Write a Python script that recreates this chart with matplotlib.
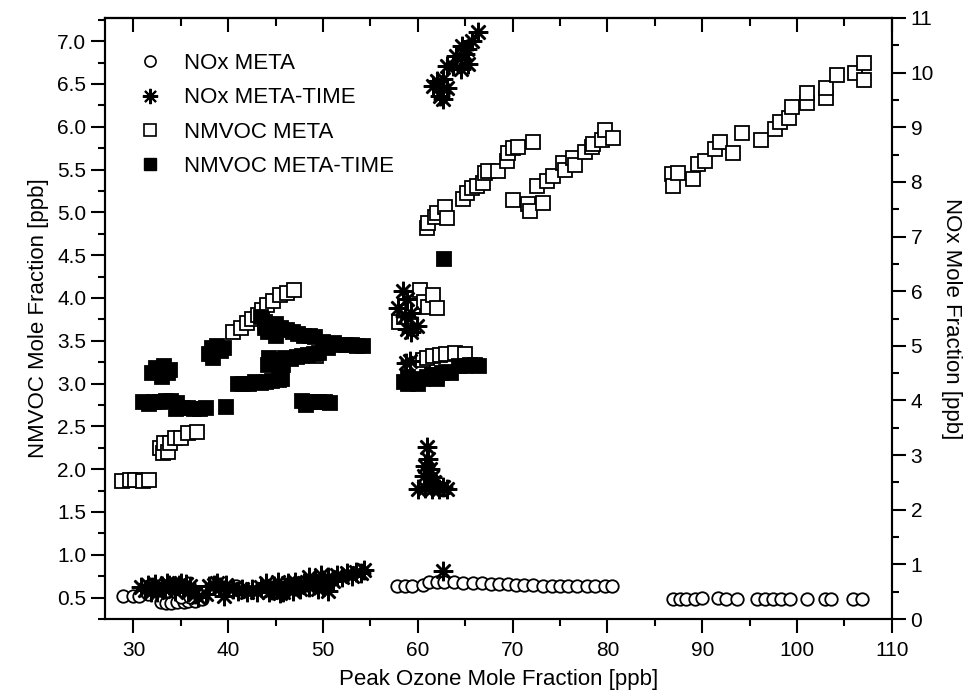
import matplotlib
matplotlib.use("Agg")
import matplotlib.pyplot as plt
from matplotlib.ticker import MultipleLocator
from matplotlib.lines import Line2D

plt.rcParams['font.family'] = ['Liberation Sans', 'DejaVu Sans']

# --- NMVOC META (open squares, left axis) ---
nmvoc_meta_x = [28.8, 29.6, 30.2, 31.0, 31.6,
                32.8, 33.1, 33.2, 33.6, 33.9, 34.4, 35.0, 35.7, 36.7,
                40.5, 41.3, 42.0, 42.5, 43.1, 43.6, 44.1, 44.75, 45.5, 46.2, 46.9, 49.3,
                58.0, 58.5, 59.0, 59.5, 60.2, 60.6, 61.1, 61.6, 62.0,
                60.5, 61.0, 61.6, 62.3, 63.0, 63.9, 65.0,
                61.0, 61.1, 61.8, 62.0, 62.9, 63.1, 64.8, 65.2, 65.7, 66.25, 66.9, 67.1, 67.4,
                68.5, 69.4, 69.5, 70.0, 70.6, 72.1,
                70.0, 71.6, 71.8, 73.2, 72.6, 73.6, 74.3, 75.3, 75.5, 76.4, 76.6, 77.6, 78.4,
                78.5, 79.4, 79.7, 80.6,
                86.8, 86.9, 87.4, 89.0, 89.5, 90.3, 91.3, 91.9, 93.2, 94.2, 96.2, 97.7, 98.2,
                99.2, 99.5, 101.0, 101.1, 103.1, 103.1, 104.2, 106.1, 107.1, 107.1]
nmvoc_meta_y = [1.86, 1.87, 1.87, 1.86, 1.87,
                2.25, 2.19, 2.30, 2.20, 2.31, 2.36, 2.37, 2.42, 2.43,
                3.60, 3.65, 3.71, 3.75, 3.80, 3.86, 3.92, 3.96, 4.04, 4.06, 4.09, 3.32,
                3.72, 3.78, 3.84, 3.90, 4.09, 3.95, 3.90, 4.03, 3.88,
                3.27, 3.30, 3.32, 3.33, 3.34, 3.36, 3.34,
                4.82, 4.88, 4.94, 4.99, 5.06, 4.93, 5.15, 5.23, 5.28, 5.31, 5.34, 5.46, 5.48,
                5.48, 5.60, 5.69, 5.75, 5.76, 5.82,
                5.14, 5.10, 5.02, 5.11, 5.31, 5.37, 5.43, 5.58, 5.49, 5.63, 5.55, 5.70, 5.76,
                5.80, 5.84, 5.96, 5.87,
                5.45, 5.31, 5.46, 5.39, 5.57, 5.60, 5.74, 5.82, 5.69, 5.93, 5.85, 5.97, 6.05,
                6.10, 6.23, 6.28, 6.39, 6.33, 6.45, 6.60, 6.63, 6.74, 6.54]

# --- NMVOC META-TIME (filled squares, left axis) ---
nmvoc_time_x = [32.0, 32.4, 32.8, 33.2, 33.6, 33.9, 33.0,
                31.0, 31.6, 32.2, 32.8, 33.4, 34.0, 34.6, 35.2, 35.8, 36.4, 37.0, 37.7, 34.5,
                39.8,
                38.0, 38.3, 38.8, 39.2, 39.6, 38.4,
                41.0, 41.6, 42.2, 42.8, 43.4, 44.0, 44.6, 45.3, 45.7,
                44.2, 44.8, 45.4, 46.0, 46.6, 47.2, 47.8, 48.4, 49.0, 49.6, 44.3, 45.8,
                43.4, 43.9, 44.4, 45.0, 45.6, 46.2, 46.8, 47.4, 48.0, 48.6, 49.2, 44.2, 45.0, 43.9,
                50.0, 50.6, 51.2, 51.8, 52.4, 53.0, 53.6, 54.2, 50.5,
                47.8, 48.4, 49.0, 49.6, 50.2, 50.7, 48.2,
                58.5, 59.0, 59.5, 60.0, 60.5, 61.0, 61.5, 62.0, 62.5, 63.0, 63.5, 64.3, 65.0,
                65.5, 66.0, 66.4, 59.0, 62.0,
                62.8]
nmvoc_time_y = [3.12, 3.18, 3.14, 3.20, 3.12, 3.16, 3.08,
                2.78, 2.76, 2.79, 2.78, 2.80, 2.80, 2.77, 2.72, 2.72, 2.70, 2.70, 2.71, 2.70,
                2.73,
                3.35, 3.42, 3.44, 3.38, 3.42, 3.30,
                3.00, 2.99, 3.00, 3.02, 3.01, 3.02, 3.03, 3.04, 3.05,
                3.22, 3.27, 3.26, 3.30, 3.29, 3.31, 3.32, 3.33, 3.35, 3.36, 3.30, 3.22,
                3.78, 3.72, 3.68, 3.70, 3.65, 3.62, 3.60, 3.58, 3.56, 3.55, 3.54, 3.60, 3.56, 3.65,
                3.48, 3.46, 3.47, 3.45, 3.45, 3.45, 3.44, 3.44, 3.42,
                2.80, 2.78, 2.79, 2.79, 2.78, 2.77, 2.75,
                3.02, 3.00, 3.02, 2.99, 3.05, 3.08, 3.10, 3.10, 3.12, 3.13, 3.12, 3.20, 3.20,
                3.22, 3.22, 3.20, 3.08, 3.05,
                4.46]

# --- NOx META (open circles, right axis) ---
nox_meta_x = [28.9, 29.9, 30.6, 31.5, 32.9, 33.4, 34.0, 34.6, 35.3, 35.8, 36.5, 37.2, 35.0, 36.0, 40.8,
              57.8, 58.6, 59.4, 60.5, 61.2, 62.0, 62.8, 63.8, 64.8, 65.8, 66.8, 67.7, 68.6, 69.5,
              70.3, 71.2, 72.1, 73.2, 74.2, 75.0, 75.8, 76.8, 77.8, 78.7, 79.7, 80.5,
              86.9, 87.6, 88.3, 89.2, 90.0, 91.7, 92.5, 93.7, 95.8, 96.6, 97.5, 98.3, 99.3,
              101.0, 102.9, 103.6, 105.9, 106.8]
nox_meta_y = [0.42, 0.42, 0.42, 0.45, 0.31, 0.30, 0.30, 0.31, 0.31, 0.33, 0.33, 0.36, 0.40, 0.40, 0.60,
              0.60, 0.60, 0.60, 0.62, 0.68, 0.68, 0.68, 0.68, 0.65, 0.65, 0.65, 0.64, 0.64, 0.64,
              0.63, 0.63, 0.62, 0.61, 0.61, 0.60, 0.60, 0.60, 0.60, 0.60, 0.60, 0.60,
              0.37, 0.37, 0.37, 0.37, 0.38, 0.38, 0.37, 0.37, 0.37, 0.37, 0.37, 0.37, 0.37,
              0.37, 0.36, 0.36, 0.36, 0.36]

# --- NOx META-TIME (asterisks, right axis) ---
nox_time_x = [66.35, 65.2, 64.67, 65.7, 63.7, 63.1, 64.5, 65.3, 62.0, 61.6, 62.7, 62.35, 63.1, 62.6,
              64.0, 65.0,
              58.4, 58.9, 57.9, 58.6, 59.3, 59.9, 58.9, 59.3, 59.2, 58.7,
              61.0, 61.1, 60.8, 61.3, 60.6, 61.5, 60.0, 60.8, 61.5, 62.2, 63.1, 62.6, 61.7,
              30.8, 31.2, 31.5, 32.0, 32.3, 32.5, 33.0, 33.3, 33.7, 34.0, 34.4, 34.8, 35.2, 35.5,
              35.8, 36.0, 36.5, 36.8, 31.8, 33.5, 35.0,
              37.6, 38.0, 38.5, 39.0, 39.5, 39.8, 38.8,
              40.5, 41.0, 41.5, 42.0, 42.5, 43.0,
              43.5, 44.0, 44.3, 44.8, 45.2, 45.5, 46.0, 46.3, 46.8, 47.2, 47.6, 48.0, 48.5, 49.0,
              49.5, 50.0, 50.5, 44.6, 45.8, 47.0,
              48.5, 49.2, 49.8, 50.5, 51.0, 51.5, 52.0, 52.5, 53.0, 53.5, 54.0, 54.3,
              62.7]
nox_time_y = [10.75, 10.44, 10.49, 10.57, 10.13, 10.13, 10.07, 10.16, 9.84, 9.76, 9.89, 9.58, 9.71, 9.52,
              10.3, 10.35,
              6.00, 5.85, 5.70, 5.55, 5.60, 5.37, 5.30, 5.25, 4.73, 4.68,
              3.15, 2.93, 2.80, 2.75, 2.62, 2.60, 2.38, 2.40, 2.38, 2.38, 2.38, 2.42, 2.50,
              0.58, 0.54, 0.62, 0.58, 0.64, 0.50, 0.60, 0.55, 0.63, 0.58, 0.52, 0.62, 0.56, 0.64,
              0.50, 0.60, 0.46, 0.40, 0.50, 0.66, 0.66,
              0.45, 0.60, 0.62, 0.58, 0.42, 0.62, 0.66,
              0.55, 0.52, 0.55, 0.50, 0.55, 0.50,
              0.58, 0.66, 0.50, 0.60, 0.68, 0.48, 0.58, 0.66, 0.52, 0.60, 0.55, 0.66, 0.58, 0.63,
              0.55, 0.60, 0.52, 0.54, 0.50, 0.68,
              0.76, 0.72, 0.80, 0.76, 0.70, 0.80, 0.77, 0.84, 0.79, 0.86, 0.84, 0.90,
              0.88]

fig = plt.figure(figsize=(9.69, 7.0), dpi=100)
ax = fig.add_axes([0.1084, 0.1157, 0.812, 0.8586])
ax2 = ax.twinx()

sq_kw = dict(marker='s', markersize=9.5, markeredgewidth=1.3, markeredgecolor='black', linestyle='none')
ax.plot(nmvoc_meta_x, nmvoc_meta_y, markerfacecolor='white', **sq_kw)
ax.plot(nmvoc_time_x, nmvoc_time_y, markerfacecolor='black', **sq_kw)

star = (8, 2, 0)
ax2.plot(nox_meta_x, nox_meta_y, marker='o', markersize=9, markerfacecolor='white',
         markeredgecolor='black', markeredgewidth=1.3, linestyle='none')
ax2.plot(nox_time_x, nox_time_y, marker=star, markersize=14, markeredgecolor='black',
         markeredgewidth=1.8, linestyle='none')

ax.set_xlim(27, 110)
ax.set_ylim(0.25, 7.27)
ax2.set_ylim(0, 11)

ax.xaxis.set_major_locator(MultipleLocator(10))
ax.xaxis.set_minor_locator(MultipleLocator(5))
ax.yaxis.set_major_locator(MultipleLocator(0.5))
ax.yaxis.set_minor_locator(MultipleLocator(0.25))
ax2.yaxis.set_major_locator(MultipleLocator(1))
ax2.yaxis.set_minor_locator(MultipleLocator(0.5))
ax.yaxis.set_major_formatter(matplotlib.ticker.FormatStrFormatter('%.1f'))

ax.tick_params(axis='x', which='both', direction='out', top=False, labelsize=15, width=1.5, pad=6)
ax.tick_params(axis='x', which='major', length=10)
ax.tick_params(axis='x', which='minor', length=5)
ax.tick_params(axis='y', which='both', direction='out', labelsize=15, width=1.5, right=False)
ax.tick_params(axis='y', which='major', length=10)
ax.tick_params(axis='y', which='minor', length=5)
ax2.tick_params(axis='y', which='both', direction='out', labelsize=15, width=1.5)
ax2.tick_params(axis='y', which='major', length=10)
ax2.tick_params(axis='y', which='minor', length=5)

# top axis ticks pointing inward
top = ax.secondary_xaxis('top')
top.xaxis.set_major_locator(MultipleLocator(10))
top.xaxis.set_minor_locator(MultipleLocator(5))
top.tick_params(axis='x', which='both', direction='in', labeltop=False, width=1.5)
top.tick_params(axis='x', which='major', length=10)
top.tick_params(axis='x', which='minor', length=6)
top.spines['top'].set_linewidth(1.5)

for s in ax.spines.values():
    s.set_linewidth(1.5)
for s in ax2.spines.values():
    s.set_linewidth(1.5)

ax.set_xlabel('Peak Ozone Mole Fraction [ppb]', fontsize=16, labelpad=6)
ax.set_ylabel('NMVOC Mole Fraction [ppb]', fontsize=16, labelpad=6)
ax2.set_ylabel('NOx Mole Fraction [ppb]', fontsize=16, rotation=270, labelpad=20)

handles = [
    Line2D([], [], marker='o', markersize=8, markerfacecolor='white', markeredgecolor='black',
           markeredgewidth=1.2, linestyle='none'),
    Line2D([], [], marker=star, markersize=11, markeredgecolor='black',
           markeredgewidth=1.5, linestyle='none'),
    Line2D([], [], marker='s', markersize=8, markerfacecolor='white', markeredgecolor='black',
           markeredgewidth=1.2, linestyle='none'),
    Line2D([], [], marker='s', markersize=8, markerfacecolor='black', markeredgecolor='black',
           linestyle='none'),
]
labels = ['NOx META', 'NOx META-TIME', 'NMVOC META', 'NMVOC META-TIME']
ax2.legend(handles, labels, loc='upper left', bbox_to_anchor=(0.015, 0.975), frameon=False,
           fontsize=16, handletextpad=0.9, labelspacing=0.6, handlelength=1.2)

fig.savefig('out.png', dpi=100)
